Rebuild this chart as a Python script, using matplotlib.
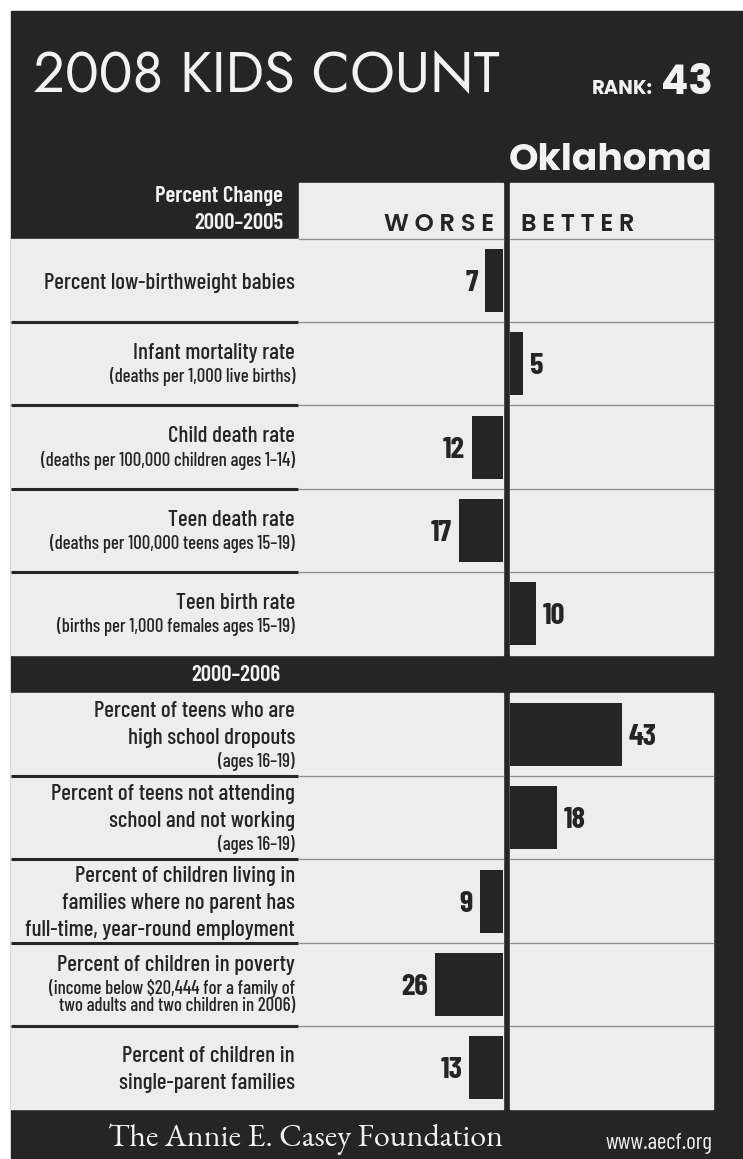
import matplotlib.pyplot as plt
from matplotlib.patches import Rectangle

# ---------------------------------------------------------------
# 2008 KIDS COUNT profile card: percent change, worse vs better
# ---------------------------------------------------------------
state = "Oklahoma"
rank = 43
period_1 = ["Percent Change", "2000–2005"]
period_2 = "2000–2006"

main_lines = [
    ["Percent low-birthweight babies"],
    ["Infant mortality rate"],
    ["Child death rate"],
    ["Teen death rate"],
    ["Teen birth rate"],
    ["Percent of teens who are", "high school dropouts"],
    ["Percent of teens not attending", "school and not working"],
    ["Percent of children living in", "families where no parent has",
     "full-time, year-round employment"],
    ["Percent of children in poverty"],
    ["Percent of children in", "single-parent families"],
]
sub_lines = [
    [],
    ["(deaths per 1,000 live births)"],
    ["(deaths per 100,000 children ages 1–14)"],
    ["(deaths per 100,000 teens ages 15–19)"],
    ["(births per 1,000 females ages 15–19)"],
    ["(ages 16–19)"],
    ["(ages 16–19)"],
    [],
    [r"(income below \$20,444 for a family of", "two adults and two children in 2006)"],
    [],
]
pct_change = [7, 5, 12, 17, 10, 43, 18, 9, 26, 13]
direction = ["worse", "better", "worse", "worse", "better",
             "better", "better", "worse", "worse", "worse"]

DARK = "#262525"
LIGHT = "#ededed"
WHITE = "#f2f2f2"
COND = "Barlow Condensed"
GEO = "Poppins"

W, H = 743, 1159
fig = plt.figure(figsize=(W / 100, H / 100), dpi=100, facecolor="white")
bg = fig.add_axes([0, 0, 1, 1])
bg.set_xlim(0, W)
bg.set_ylim(H, 0)
bg.axis("off")

# layout in pixels
left, label_right, chart_l, chart_r = 11, 298, 299, 713
div_l, div_r = 503, 510
head_top, sec1_top, row_h = 183, 239, 83.2
band_h = 38
sec1_bot = sec1_top + 5 * row_h
sec2_top = sec1_bot + band_h
sec2_bot = sec2_top + 5 * row_h

bg.add_patch(Rectangle((left, left), W - left, H - left, color=DARK, zorder=0))
# header boxes
bg.add_patch(Rectangle((chart_l, head_top), div_l - chart_l, sec1_top - head_top, color=LIGHT, zorder=1))
bg.add_patch(Rectangle((div_r, head_top), chart_r - div_r, sec1_top - head_top, color=LIGHT, zorder=1))
for top, bot in [(sec1_top, sec1_bot), (sec2_top, sec2_bot)]:
    bg.add_patch(Rectangle((left, top), div_l - left, bot - top, color=LIGHT, zorder=1))
    bg.add_patch(Rectangle((div_r, top), chart_r - div_r, bot - top, color=LIGHT, zorder=1))

row_centers = []
for i in range(10):
    top = (sec1_top if i < 5 else sec2_top) + (i % 5) * row_h
    row_centers.append(top + row_h / 2)
    if i % 5 != 0:
        bg.plot([left, label_right], [top, top], color=DARK, lw=2.2, zorder=2, solid_capstyle="butt")
        bg.plot([label_right, div_l], [top, top], color="#8c8c8c", lw=0.9, zorder=2)
        bg.plot([div_r, chart_r], [top, top], color="#8c8c8c", lw=0.9, zorder=2)
bg.plot([chart_l, div_l], [sec1_top, sec1_top], color="#8c8c8c", lw=0.9, zorder=2)
bg.plot([div_r, chart_r], [sec1_top, sec1_top], color="#8c8c8c", lw=0.9, zorder=2)

# titles
bg.text(33, 92, "2008 KIDS COUNT", color=WHITE, fontsize=40.5, family="Jost",
        ha="left", va="baseline")
bg.text(713, 94, str(rank), color=WHITE, fontsize=29, family=GEO,
        fontweight="bold", ha="right", va="baseline")
bg.text(653, 94, "RANK:", color=WHITE, fontsize=14, family=GEO,
        fontweight="bold", ha="right", va="baseline")
bg.text(713, 170, state, color=WHITE, fontsize=27, family=GEO,
        fontweight="bold", ha="right", va="baseline")

bg.text(283, 202, period_1[0], color=WHITE, fontsize=16.5, family=COND,
        fontweight="semibold", ha="right", va="baseline")
bg.text(283, 229, period_1[1], color=WHITE, fontsize=16.5, family=COND,
        fontweight="semibold", ha="right", va="baseline")
bg.text(281, (sec1_bot + sec2_top) / 2 + 7, period_2, color=WHITE, fontsize=16.5,
        family=COND, fontweight="semibold", ha="right", va="baseline")

bg.text(494, 231, "W O R S E", color=DARK, fontsize=17.5, family=GEO,
        fontweight="semibold", ha="right", va="baseline")
bg.text(521, 231, "B E T T E R", color=DARK, fontsize=17.5, family=GEO,
        fontweight="semibold", ha="left", va="baseline")

# indicator labels
for yc, mains, subs in zip(row_centers, main_lines, sub_lines):
    kinds = ["m"] * len(mains) + ["s"] * len(subs)
    texts = mains + subs
    ys = [0.0]
    for a, b in zip(kinds[:-1], kinds[1:]):
        step = 27 if (a, b) == ("m", "m") else (25 if b == "s" and a == "m" else 17)
        ys.append(ys[-1] + step)
    shift = yc - (ys[0] + ys[-1]) / 2
    for k, t, y in zip(kinds, texts, ys):
        if k == "m":
            bg.text(295, y + shift + 8, t, color=DARK, fontsize=16.5, family=COND,
                    fontweight="medium", ha="right", va="baseline", zorder=3)
        else:
            bg.text(295, y + shift + 6, t, color=DARK, fontsize=13.5, family=COND,
                    fontweight="medium", ha="right", va="baseline", zorder=3)

bg.text(108, 1146, "The Annie E. Casey Foundation", color=WHITE, fontsize=23,
        family="EB Garamond", ha="left", va="baseline")
bg.text(712, 1149, "www.aecf.org", color=WHITE, fontsize=16.5, family=COND,
        ha="right", va="baseline")

# bars: x in percent units, y in pixel rows
px_per_unit = 2.6
center = (div_l + div_r) / 2
gap = (div_r - div_l) / 2 / px_per_unit
ax = fig.add_axes([0, 0, 1, 1])
ax.set_xlim(-center / px_per_unit, (W - center) / px_per_unit)
ax.set_ylim(H, 0)
ax.axis("off")
ax.patch.set_alpha(0)

pad = 7 / px_per_unit
for yc, v, d in zip(row_centers, pct_change, direction):
    if d == "worse":
        ax.barh(yc, -v, left=-gap, height=63, color=DARK, zorder=3)
        ax.text(-gap - v - pad, yc, str(v), color=DARK, fontsize=22, family=COND,
                fontweight="bold", ha="right", va="center_baseline")
    else:
        ax.barh(yc, v, left=gap, height=63, color=DARK, zorder=3)
        ax.text(gap + v + pad, yc, str(v), color=DARK, fontsize=22, family=COND,
                fontweight="bold", ha="left", va="center_baseline")

fig.savefig("out.png", dpi=100, facecolor=fig.get_facecolor())
